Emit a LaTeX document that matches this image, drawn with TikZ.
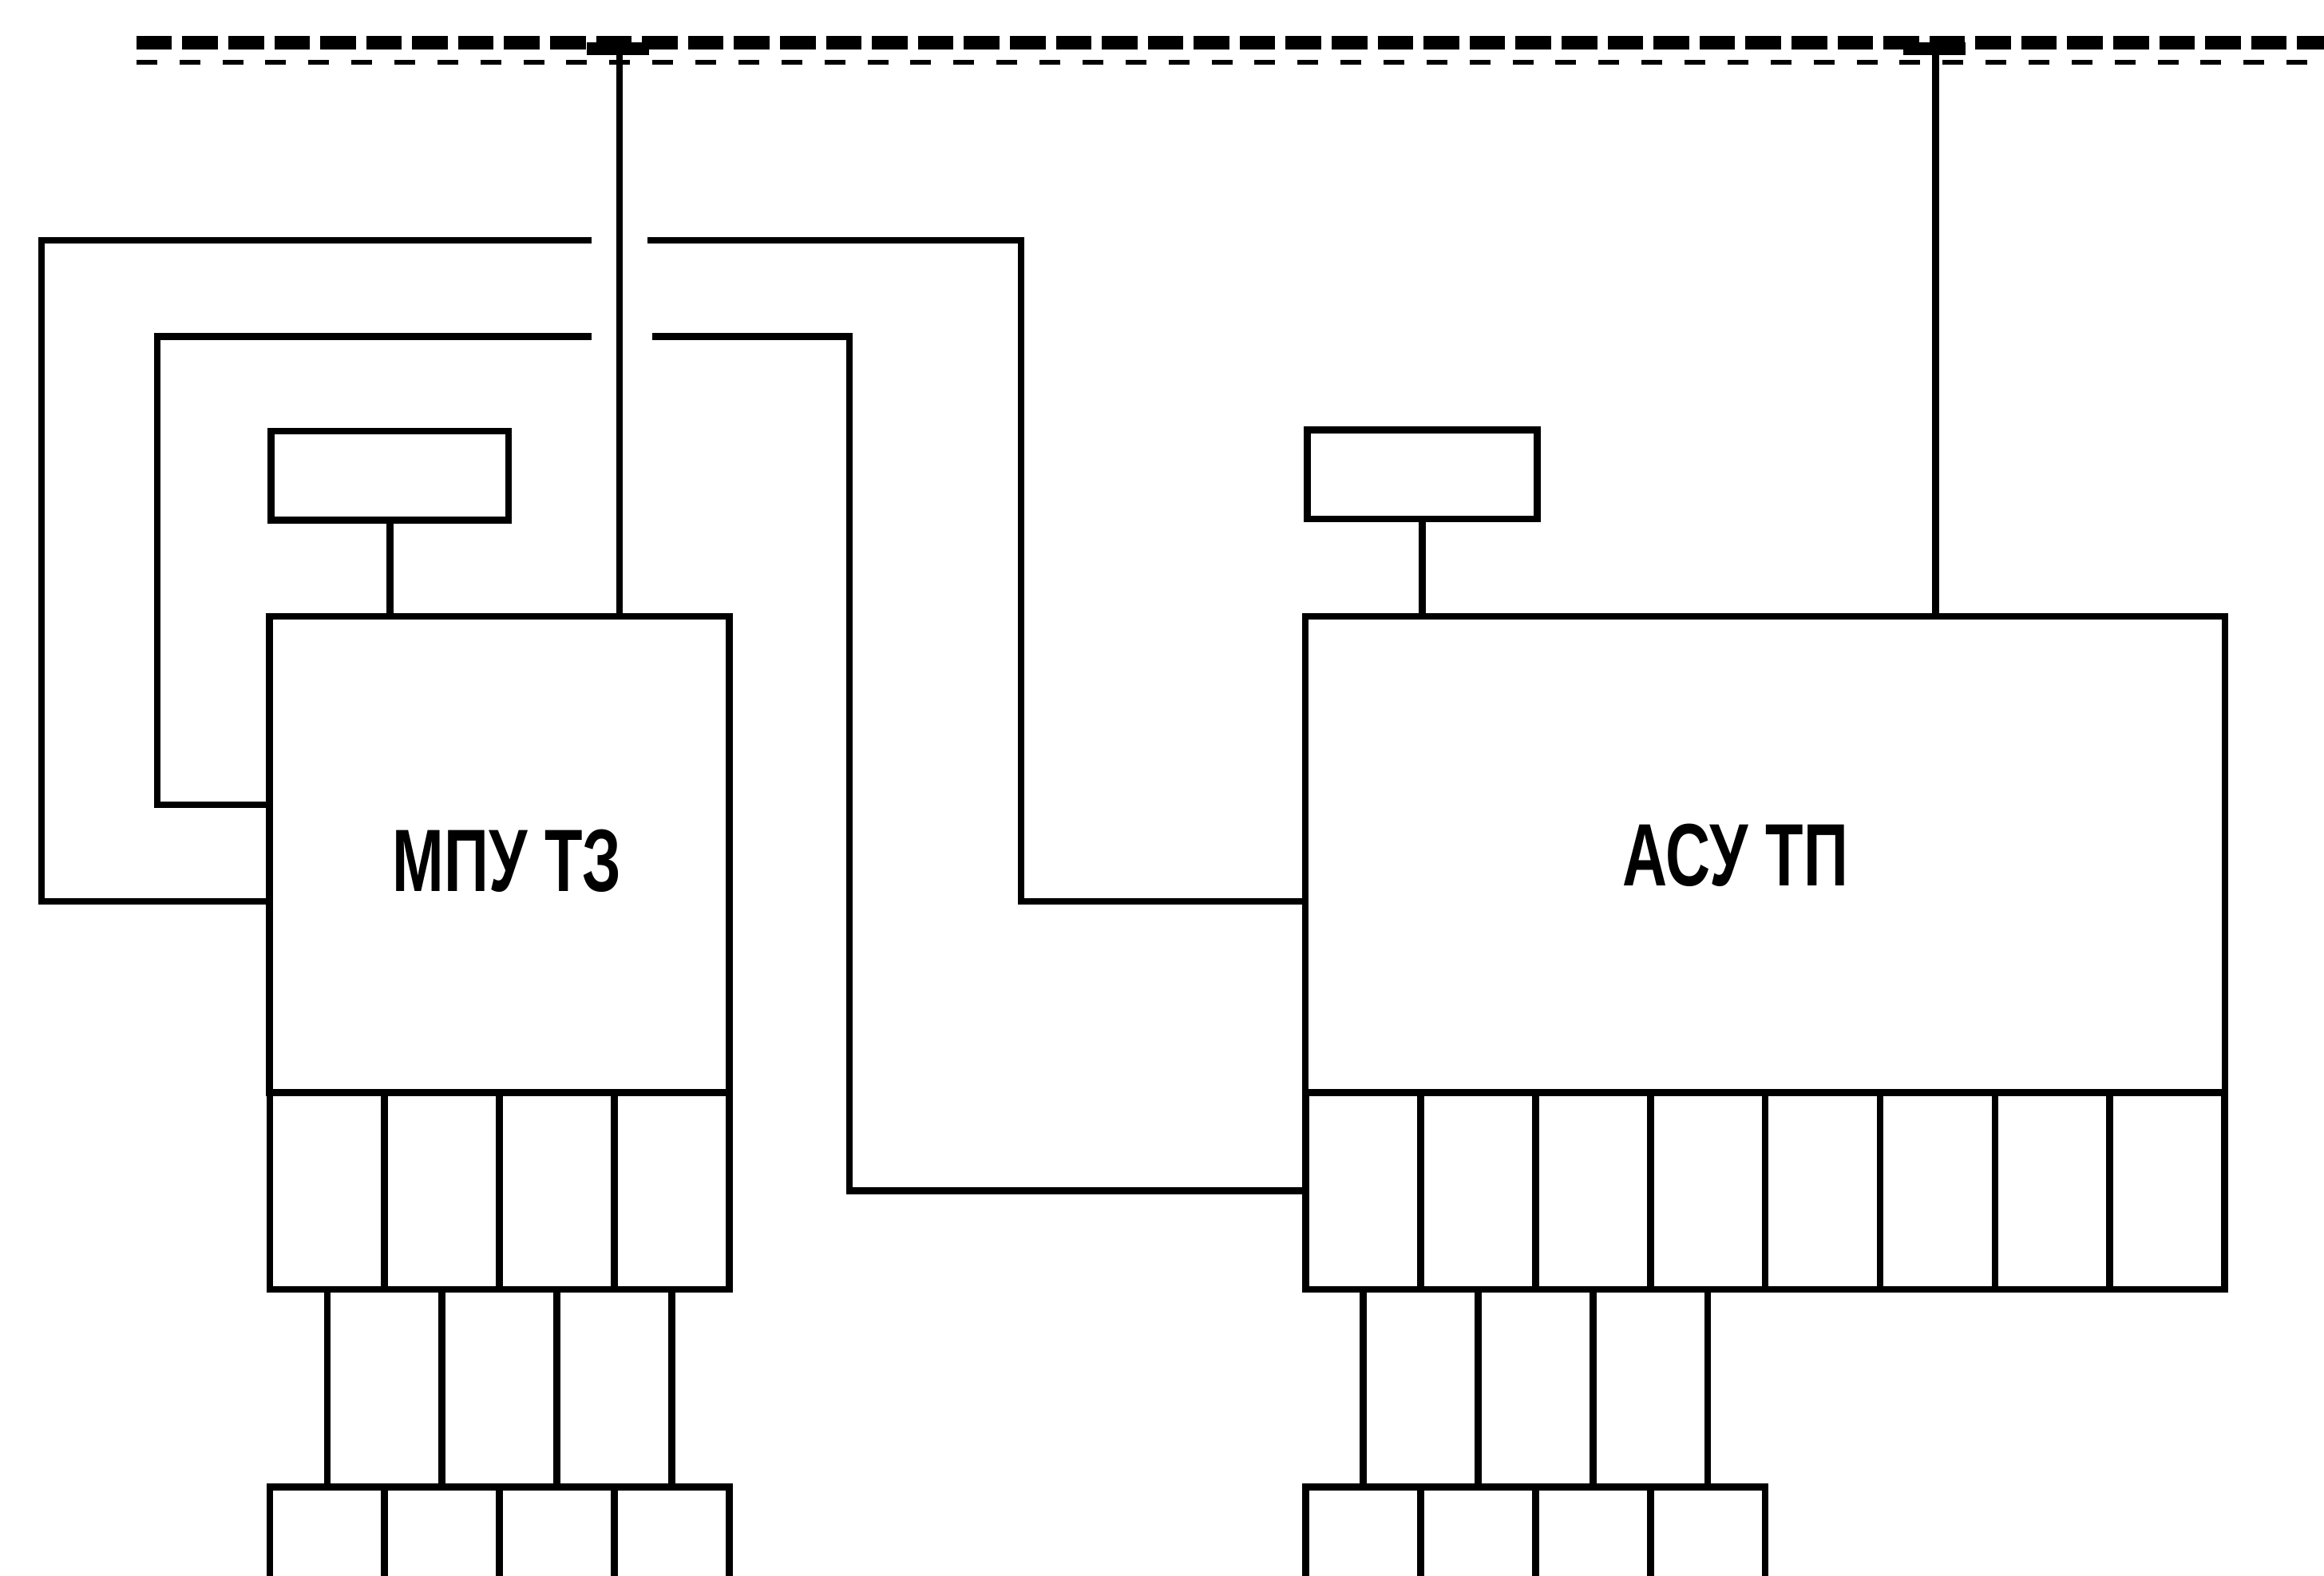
\documentclass[tikz,border=0pt]{standalone}
\usepackage{fontspec}
\newfontfamily\narrowsf[FakeStretch=0.70]{Liberation Sans}
\usetikzlibrary{positioning,calc}

\begin{document}
\begin{tikzpicture}[
  x=0.01cm,y=-0.01cm,line width=1.3pt,
  box/.style={draw,inner sep=0pt,minimum height=3.21cm},
  disp/.style={draw,inner sep=0pt,minimum height=0.6cm},
  cell/.style={draw,inner sep=0pt,minimum width=0.775cm,minimum height=1.33cm},
  bcell/.style={draw,inner sep=0pt,minimum width=0.775cm,minimum height=1.0cm,anchor=north},
  lbl/.style={font=\narrowsf\bfseries\fontsize{17}{17}\selectfont},
  bus/.style={line width=2.6pt,dash pattern=on 0.24cm off 0.07cm},
  busfine/.style={line width=0.8pt,dash pattern=on 0.14cm off 0.15cm},
  tap/.style={line width=2.4pt}
]
\fill[white] (0,0) rectangle (1568,1063);
\clip (0,0) rectangle (1568,1063);

% ---- top bus ----
\coordinate (busW) at (92,29);
\coordinate (busE) at (1568,29);
\draw[bus] (busW) -- (busE);
\draw[busfine] ([yshift=-0.13cm]busW) -- ([yshift=-0.13cm]busE);
\coordinate (tapM) at (418,33);
\coordinate (tapA) at (1306,33);
\draw[tap] ([xshift=-0.22cm]tapM) -- ([xshift=0.2cm]tapM);
\draw[tap] ([xshift=-0.22cm]tapA) -- ([xshift=0.2cm]tapA);

% ---- МПУ ТЗ : left block ----
\node[box,minimum width=3.10cm] (mpu) at (337,576.5) {};
\node[lbl] (mputxt) at (342,581) {МПУ ТЗ};
\node[disp,minimum width=1.60cm] (dispM) at (263,321) {};
\foreach \i in {0,...,3} {
  \node[cell] (mc\i) at ({220.75+77.5*\i},803.5) {};
  \node[bcell] (mb\i) at ({220.75+77.5*\i},1001) {};
  \draw (mc\i.south) -- (mb\i.north);
}

% ---- АСУ ТП : right block ----
\node[box,minimum width=6.20cm] (acu) at (1191,576.5) {};
\node[lbl] (acutxt) at (1171,577) {АСУ ТП};
\node[disp,minimum width=1.55cm] (dispA) at (959.5,320) {};
\foreach \i in {0,...,7}
  \node[cell] (ac\i) at ({919.75+77.5*\i},803.5) {};
\foreach \i in {0,...,3} {
  \node[bcell] (ab\i) at ({919.75+77.5*\i},1001) {};
  \draw (ac\i.south) -- (ab\i.north);
}

% wires
\draw (dispM.south) -- (dispM.south |- mpu.north);
\draw (tapM) -- (tapM |- mpu.north);
\draw (dispA.south) -- (dispA.south |- acu.north);
\draw (tapA) -- (tapA |- acu.north);

% outer loop (gap at the bus tap)
\coordinate (oSW) at (28,608);
\coordinate (oNW) at (28,162);
\coordinate (oGapL) at (399,162);
\coordinate (oGapR) at (437,162);
\coordinate (oNE) at (689,162);
\draw (mpu.west |- oSW) -- (oSW) -- (oNW) -- (oGapL);
\draw (oGapR) -- (oNE) |- (acu.west |- oSW);

% inner loop
\coordinate (iSW) at (106,543);
\coordinate (iNW) at (106,227);
\coordinate (iGapL) at (399,227);
\coordinate (iGapR) at (440,227);
\coordinate (iNE) at (573,227);
\draw (mpu.west |- iSW) -- (iSW) -- (iNW) -- (iGapL);
\draw (iGapR) -- (iNE) |- (ac0.west);
\end{tikzpicture}
\end{document}
